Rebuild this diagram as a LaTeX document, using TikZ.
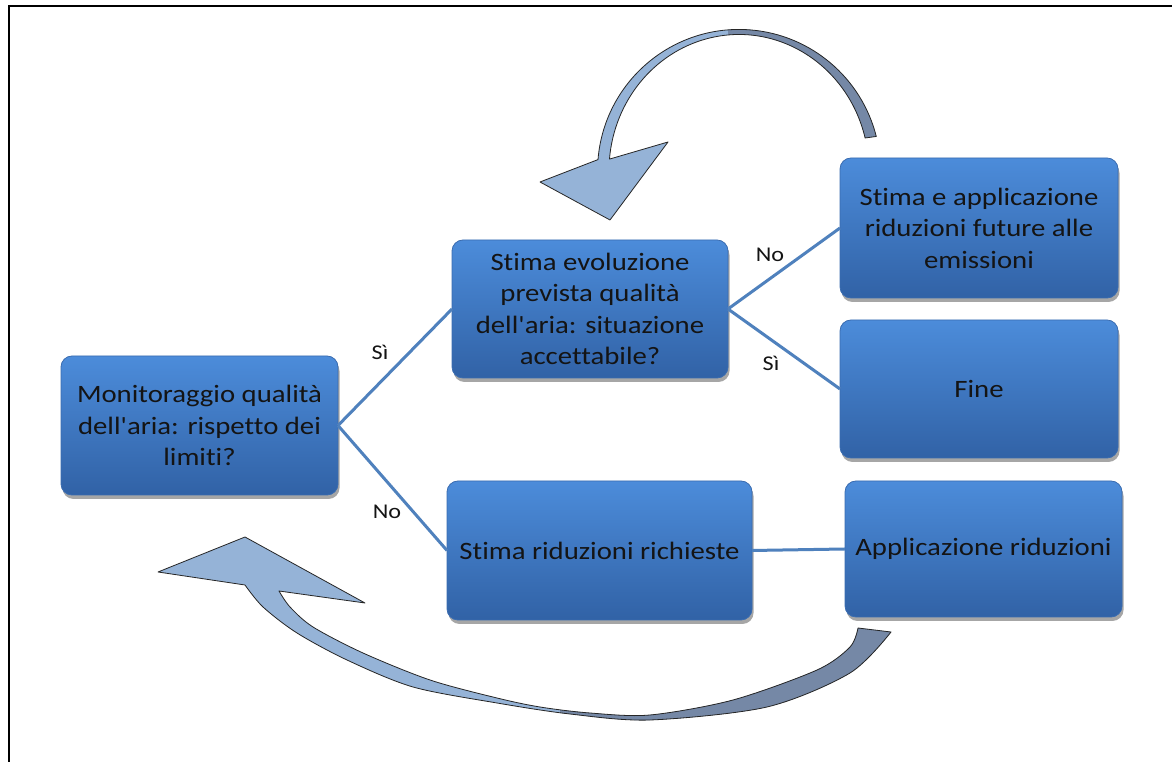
\documentclass[tikz,border=0pt]{standalone}
\usepackage{fontspec}
\newfontfamily\carl{Carlito}[FakeStretch=1.15, Ligatures=CommonOff]
\usetikzlibrary{shadows}
\definecolor{boxtop}{RGB}{76,140,218}
\definecolor{boxbot}{RGB}{49,98,166}
\definecolor{boxedge}{RGB}{58,108,176}
\definecolor{conn}{RGB}{79,129,189}
\definecolor{arrlight}{RGB}{149,179,215}
\definecolor{arrdark}{RGB}{117,136,166}
\definecolor{txt}{RGB}{20,20,20}
\newcommand\toparrowpath[1]{%
  \path[#1] (610,542) -- (540,580) -- (598,602.4)
    arc[start angle=175.4, end angle=14.1, radius=141.5]
    -- (865.1,624)
    arc[start angle=14, end angle=175, x radius=130, y radius=136.5]
    -- (668,620) -- cycle;}
\newcommand\botarrowpath[1]{%
  \path[#1] (365,159) -- (245,225) -- (158,190) -- (245,177)
    -- plot[smooth] coordinates {(245,177) (263,155) (297,129) (347,102) (413,75) (497,59) (570,48) (650,42) (767,55) (850,89) (891,130)}
    -- (858,134)
    -- plot[smooth] coordinates {(858,134) (850,115) (817,92) (733,62) (650,47) (590,49) (540,55) (497,64) (430,82) (363,109) (313,135) (290,155) (279,171)}
    -- cycle;}
\begin{document}
\begin{tikzpicture}[x=1pt,y=1pt,
  flowbox/.style={rounded corners=11pt, top color=boxtop, bottom color=boxbot,
    draw=boxedge, line width=0.8pt, inner sep=0pt, outer sep=0pt,
    align=center, text=txt, font=\carl\fontsize{25}{31.5}\selectfont,
    drop shadow={shadow xshift=1.5pt, shadow yshift=-4pt, opacity=0.35, fill=black}},
  conline/.style={draw=conn, line width=3pt},
  lbl/.style={text=txt, font=\carl\fontsize{21}{25}\selectfont, inner sep=0pt},
  arrline/.style={draw=black!85, line width=0.8pt, line join=round}]
\useasboundingbox (0,0) rectangle (1172,762);
\fill[white] (0,0) rectangle (1172,762);
\draw[line width=2pt] (9,0) -- (9,756) -- (1172,756);

% curved arrows
\toparrowpath{fill=arrlight}
\begin{scope}
  \clip (728,560) rectangle (1000,760);
  \toparrowpath{fill=arrdark}
\end{scope}
\toparrowpath{arrline}

\botarrowpath{fill=arrlight}
\begin{scope}
  \clip (560,0) rectangle (1000,200);
  \botarrowpath{fill=arrdark}
\end{scope}
\botarrowpath{arrline}

% boxes
\node[flowbox, minimum width=277pt, minimum height=139pt] (A) at (199.5,336.5)
  {Monitoraggio qualità\\dell'aria: rispetto dei\\limiti?};
\node[flowbox, minimum width=276pt, minimum height=138pt] (B) at (590,453)
  {Stima evoluzione\\prevista qualità\\dell'aria: situazione\\accettabile?};
\node[flowbox, minimum width=278pt, minimum height=140pt] (C) at (979,534)
  {Stima e applicazione\\riduzioni future alle\\emissioni};
\node[flowbox, minimum width=278pt, minimum height=138pt] (D) at (979,373)
  {Fine};
\node[flowbox, minimum width=305pt, minimum height=139pt] (E) at (599.5,211.5)
  {Stima riduzioni richieste};
\node[flowbox, minimum width=277pt, minimum height=136pt] (F) at (983.5,213)
  {Applicazione riduzioni};

% connectors
\draw[conline] (A.east) -- (B.west);
\draw[conline] (A.east) -- (E.west);
\draw[conline] (B.east) -- (C.west);
\draw[conline] (B.east) -- (D.west);
\draw[conline] (E.east) -- (F.west);

% labels
\node[lbl] (l1) at (380,410) {Sì};
\node[lbl] (l2) at (387,250) {No};
\node[lbl] (l3) at (770,507) {No};
\node[lbl] (l4) at (771,399) {Sì};
\end{tikzpicture}
\end{document}
